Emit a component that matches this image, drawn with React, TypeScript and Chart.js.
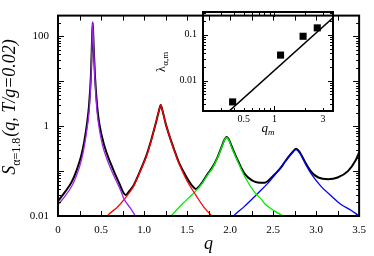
import React, { useEffect, useRef } from 'react';
import { Chart, registerables } from 'chart.js';

Chart.register(...registerables);

// ---- main panel data ----
const blackQ = [0, 0.08, 0.156, 0.213, 0.27, 0.308, 0.338, 0.36, 0.382, 0.394, 0.403, 0.414, 0.43, 0.455, 0.479, 0.536, 0.612, 0.707, 0.785, 0.83, 0.878, 0.954, 1.03, 1.087, 1.137, 1.174, 1.194, 1.214, 1.25, 1.296, 1.353, 1.41, 1.486, 1.56, 1.6, 1.657, 1.74, 1.79, 1.85, 1.9, 1.93, 1.96, 1.99, 2.02, 2.094, 2.17, 2.25, 2.32, 2.4, 2.47, 2.53, 2.6, 2.645, 2.72, 2.767, 2.81, 2.873, 2.95, 3.025, 3.14, 3.25, 3.37, 3.46, 3.5];
const blackS = [0.0214, 0.034, 0.056, 0.1, 0.219, 0.49, 1.17, 2.8, 12.9, 65, 205, 65, 12.9, 2.8, 1.17, 0.38, 0.148, 0.056, 0.0295, 0.036, 0.048, 0.1, 0.23, 0.52, 1.17, 2.24, 2.97, 2.24, 1.17, 0.6, 0.29, 0.148, 0.078, 0.047, 0.04, 0.05, 0.087, 0.118, 0.195, 0.34, 0.48, 0.575, 0.49, 0.35, 0.166, 0.087, 0.063, 0.056, 0.055, 0.068, 0.089, 0.126, 0.17, 0.257, 0.316, 0.263, 0.158, 0.093, 0.072, 0.066, 0.072, 0.1, 0.174, 0.26];

const purpleQ = [0, 0.08, 0.156, 0.213, 0.27, 0.308, 0.346, 0.365, 0.384, 0.395, 0.403, 0.413, 0.428, 0.45, 0.47, 0.517, 0.574, 0.65, 0.726, 0.77, 0.84, 0.9, 0.95];
const purpleS = [0.0178, 0.0275, 0.0447, 0.0776, 0.17, 0.38, 1.17, 2.6, 12.9, 65, 205, 65, 12.9, 2.6, 1.17, 0.38, 0.174, 0.078, 0.038, 0.0234, 0.0151, 0.01, 0.0075];

const redQ = [0.52, 0.574, 0.68, 0.77, 0.878, 0.954, 1.03, 1.087, 1.137, 1.174, 1.194, 1.214, 1.25, 1.296, 1.353, 1.43, 1.505, 1.6, 1.695, 1.79, 1.85];
const redS = [0.0065, 0.01, 0.0151, 0.0234, 0.046, 0.098, 0.22, 0.51, 1.17, 2.24, 2.97, 2.24, 1.17, 0.59, 0.28, 0.115, 0.058, 0.0295, 0.0158, 0.01, 0.0078];

const greenQ = [1.25, 1.315, 1.45, 1.56, 1.657, 1.74, 1.79, 1.85, 1.9, 1.93, 1.96, 1.99, 2.02, 2.094, 2.17, 2.284, 2.36, 2.4, 2.51, 2.62, 2.7];
const greenS = [0.0071, 0.01, 0.019, 0.03, 0.048, 0.083, 0.112, 0.19, 0.33, 0.47, 0.56, 0.47, 0.33, 0.158, 0.076, 0.034, 0.024, 0.019, 0.0132, 0.01, 0.0083];

const blueQ = [1.98, 2.04, 2.17, 2.32, 2.44, 2.53, 2.645, 2.72, 2.767, 2.81, 2.873, 2.95, 3.06, 3.18, 3.29, 3.41, 3.5, 3.56];
const blueS = [0.0076, 0.01, 0.0166, 0.0316, 0.054, 0.087, 0.166, 0.25, 0.3, 0.25, 0.148, 0.083, 0.045, 0.0275, 0.018, 0.0133, 0.01, 0.0085];

// main axes ticks
const mainXTicks = [0, 0.25, 0.5, 0.75, 1, 1.25, 1.5, 1.75, 2, 2.25, 2.5, 2.75, 3, 3.25, 3.5];
const mainYLabelTicks = [0.01, 1, 100];
const mainYDecades = [0.01, 0.1, 1, 10, 100];
const minorMultipliers = [2, 3, 4, 5, 6, 7, 8, 9];

// ---- inset data ----
const insetQm = [0.39, 1.15, 1.91, 2.63];
const insetLambda = [0.0034, 0.036, 0.093, 0.142];
const fitQ = [0.361, 3.75];
const fitLambda = [0.00215, 0.236];
const insetXLabelTicks = [0.5, 1, 3];
const insetXMajor = [1];
const insetXMinor = [0.2, 0.3, 0.4, 0.5, 0.6, 0.7, 0.8, 0.9, 2, 3];
const insetYLabelTicks = [0.01, 0.1];
const insetYMajor = [0.01, 0.1];
const insetYMinor = [0.003, 0.004, 0.005, 0.006, 0.007, 0.008, 0.009, 0.02, 0.03, 0.04, 0.05, 0.06, 0.07, 0.08, 0.09, 0.2, 0.3];

const SERIF = '"Liberation Serif", "DejaVu Serif", serif';

const pts = (xs: number[], ys: number[]) => xs.map((x, i) => ({ x, y: ys[i] }));

function hLine(ctx: CanvasRenderingContext2D, x1: number, y1: number, x2: number, y2: number) {
  ctx.beginPath();
  ctx.moveTo(x1, y1);
  ctx.lineTo(x2, y2);
  ctx.stroke();
}

const mainDecor = {
  id: 'mainDecor',
  afterDraw(chart: any) {
    const { ctx, chartArea: a, scales } = chart;
    const x = scales.x;
    const y = scales.y;
    ctx.save();
    ctx.strokeStyle = '#000';
    ctx.lineWidth = 1;
    mainXTicks.forEach((v) => {
      const px = Math.round(x.getPixelForValue(v)) + 0.5;
      hLine(ctx, px, a.bottom, px, a.bottom - 5);
      hLine(ctx, px, a.top, px, a.top + 5);
    });
    mainYDecades.forEach((d) => {
      const py = Math.round(y.getPixelForValue(d)) + 0.5;
      if (py >= a.top && py <= a.bottom) {
        hLine(ctx, a.left, py, a.left + 6, py);
        hLine(ctx, a.right, py, a.right - 6, py);
      }
      minorMultipliers.forEach((m) => {
        const v = d * m;
        const p = Math.round(y.getPixelForValue(v)) + 0.5;
        if (p >= a.top && p <= a.bottom) {
          hLine(ctx, a.left, p, a.left + 3, p);
          hLine(ctx, a.right, p, a.right - 3, p);
        }
      });
    });
    ctx.lineWidth = 2;
    ctx.strokeRect(a.left, a.top, a.right - a.left, a.bottom - a.top);

    // x title
    ctx.fillStyle = '#000';
    ctx.font = `italic 18px ${SERIF}`;
    ctx.textAlign = 'center';
    ctx.textBaseline = 'alphabetic';
    ctx.fillText('q', (a.left + a.right) / 2, 249);

    // y title (rotated)
    ctx.translate(0, 107);
    ctx.rotate(-Math.PI / 2);
    ctx.textAlign = 'left';
    const mainFont = `italic 18px ${SERIF}`;
    const subFont = `12px ${SERIF}`;
    ctx.font = mainFont;
    const wS = ctx.measureText('S').width;
    const wRest = ctx.measureText('(q, T/g=0.02)').width;
    ctx.font = subFont;
    const wSub = ctx.measureText('α=1.8').width;
    const total = wS + wSub + wRest + 1;
    let cx = -total / 2;
    ctx.font = mainFont;
    ctx.fillText('S', cx, 15);
    cx += wS;
    ctx.font = subFont;
    ctx.fillText('α=1.8', cx, 19.5);
    cx += wSub + 1;
    ctx.font = mainFont;
    ctx.fillText('(q, T/g=0.02)', cx, 15);
    ctx.restore();
  },
};

const insetDecor = {
  id: 'insetDecor',
  afterDraw(chart: any) {
    const { ctx, chartArea: a, scales } = chart;
    const x = scales.x;
    const y = scales.y;
    ctx.save();
    ctx.strokeStyle = '#000';
    ctx.lineWidth = 1;
    const xt = (vals: number[], len: number) =>
      vals.forEach((v) => {
        const px = Math.round(x.getPixelForValue(v)) + 0.5;
        if (px >= a.left && px <= a.right) {
          hLine(ctx, px, a.bottom, px, a.bottom - len);
          hLine(ctx, px, a.top, px, a.top + len);
        }
      });
    const yt = (vals: number[], len: number) =>
      vals.forEach((v) => {
        const py = Math.round(y.getPixelForValue(v)) + 0.5;
        if (py >= a.top && py <= a.bottom) {
          hLine(ctx, a.left, py, a.left + len, py);
          hLine(ctx, a.right, py, a.right - len, py);
        }
      });
    xt(insetXMajor, 5);
    xt(insetXMinor, 3);
    yt(insetYMajor, 5);
    yt(insetYMinor, 3);
    ctx.lineWidth = 2;
    ctx.strokeRect(a.left, a.top, a.right - a.left, a.bottom - a.top);

    // x title q_m
    ctx.fillStyle = '#000';
    ctx.textAlign = 'left';
    ctx.textBaseline = 'alphabetic';
    ctx.font = `italic 13px ${SERIF}`;
    const wq = ctx.measureText('q').width;
    ctx.fillText('q', 111.5, 131.5);
    ctx.font = `italic 9px ${SERIF}`;
    ctx.fillText('m', 111.5 + wq, 134.5);

    // y title lambda_{alpha,m}
    ctx.translate(0, 72);
    ctx.rotate(-Math.PI / 2);
    ctx.font = `12px ${SERIF}`;
    const wl = ctx.measureText('λ').width;
    ctx.fillText('λ', 0, 15);
    ctx.font = `9px ${SERIF}`;
    ctx.fillText('α,m', wl + 0.5, 17.5);
    ctx.restore();
  },
};

export default function App() {
  const mainRef = useRef<HTMLCanvasElement | null>(null);
  const insetRef = useRef<HTMLCanvasElement | null>(null);

  useEffect(() => {
    if (!mainRef.current || !insetRef.current) return;
    Chart.defaults.font.family = SERIF;
    Chart.defaults.color = '#000';

    const line = (data: any, color: string, width: number) => ({
      data,
      borderColor: color,
      borderWidth: width,
      pointRadius: 0,
      fill: false,
      cubicInterpolationMode: 'monotone' as const,
    });

    const main = new Chart(mainRef.current, {
      type: 'line',
      data: {
        datasets: [
          line(pts(purpleQ, purpleS), '#a020f0', 1.3),
          line(pts(redQ, redS), '#ff0000', 1.3),
          line(pts(greenQ, greenS), '#00ee00', 1.3),
          line(pts(blueQ, blueS), '#0000ff', 1.3),
          line(pts(blackQ, blackS), '#000000', 2),
        ],
      },
      options: {
        animation: false,
        responsive: false,
        events: [],
        layout: { padding: { top: 2, right: 9, left: 0, bottom: 0 } },
        plugins: { legend: { display: false }, tooltip: { enabled: false }, title: { display: false } },
        scales: {
          x: {
            type: 'linear',
            min: 0,
            max: 3.5,
            grid: { display: false, drawTicks: false },
            border: { display: false },
            ticks: { stepSize: 0.5, padding: 8, font: { size: 11, family: SERIF }, color: '#000', maxRotation: 0, autoSkip: false },
            afterFit: (s: any) => { s.height = 40; },
          },
          y: {
            type: 'logarithmic',
            min: 0.01,
            max: 290,
            grid: { display: false, drawTicks: false },
            border: { display: false },
            afterBuildTicks: (s: any) => { s.ticks = mainYLabelTicks.map((v) => ({ value: v })); },
            ticks: { padding: 9, font: { size: 11, family: SERIF }, color: '#000', callback: (v: any) => String(v) },
            afterFit: (s: any) => { s.width = 58; },
          },
        },
      },
      plugins: [mainDecor],
    });

    const inset = new Chart(insetRef.current, {
      type: 'scatter',
      data: {
        datasets: [
          {
            data: pts(insetQm, insetLambda),
            pointStyle: 'rect',
            pointRadius: 5,
            backgroundColor: '#000',
            borderWidth: 0,
            showLine: false,
          },
          {
            data: pts(fitQ, fitLambda),
            showLine: true,
            borderColor: '#000',
            borderWidth: 1.6,
            pointRadius: 0,
          },
        ],
      },
      options: {
        animation: false,
        responsive: false,
        events: [],
        layout: { padding: { top: 11, right: 7, left: 0, bottom: 0 } },
        plugins: { legend: { display: false }, tooltip: { enabled: false } },
        scales: {
          x: {
            type: 'logarithmic',
            min: 0.2,
            max: 3.75,
            grid: { display: false, drawTicks: false },
            border: { display: false },
            afterBuildTicks: (s: any) => { s.ticks = insetXLabelTicks.map((v) => ({ value: v })); },
            ticks: { padding: 2, font: { size: 10, family: SERIF }, color: '#000', maxRotation: 0, autoSkip: false, callback: (v: any) => String(v) },
            afterFit: (s: any) => { s.height = 29; },
          },
          y: {
            type: 'logarithmic',
            min: 0.00215,
            max: 0.316,
            grid: { display: false, drawTicks: false },
            border: { display: false },
            afterBuildTicks: (s: any) => { s.ticks = insetYLabelTicks.map((v) => ({ value: v })); },
            ticks: { padding: 6, font: { size: 10, family: SERIF }, color: '#000', callback: (v: any) => String(v) },
            afterFit: (s: any) => { s.width = 53; },
          },
        },
      },
      plugins: [insetDecor],
    });

    return () => {
      main.destroy();
      inset.destroy();
    };
  }, []);

  return (
    <div style={{ position: 'fixed', left: 0, top: 0, width: 374, height: 256, background: '#fff', overflow: 'hidden' }}>
      <canvas ref={mainRef} width={374} height={256} style={{ position: 'absolute', left: 0, top: 0, width: 374, height: 256 }} />
      <canvas ref={insetRef} width={190} height={140} style={{ position: 'absolute', left: 150, top: 0, width: 190, height: 140 }} />
    </div>
  );
}
